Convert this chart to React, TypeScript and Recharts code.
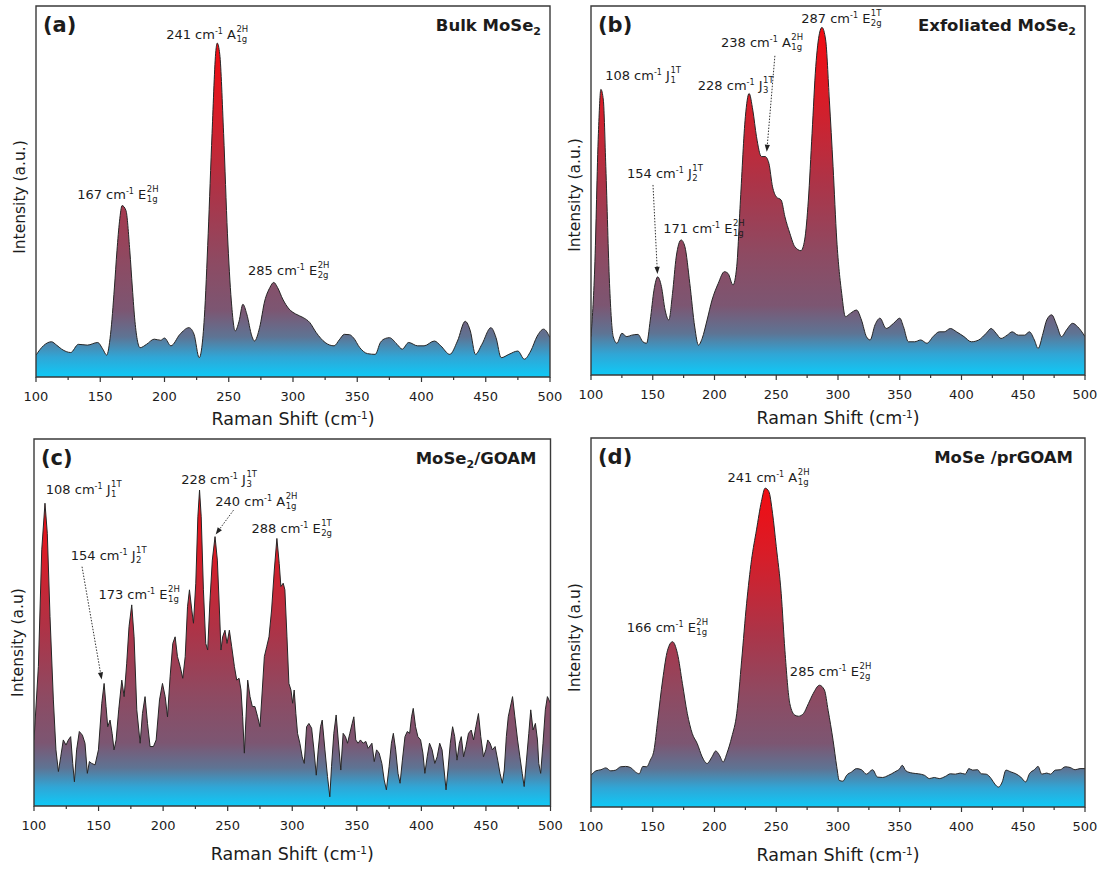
import React from "react";
import { AreaChart, Area, XAxis, YAxis, ReferenceArea, ReferenceDot, ReferenceLine } from "recharts";

const FONT = "'DejaVu Sans', 'Liberation Sans', Arial, sans-serif";
const INK = "#1c1c1c";

const X_TICKS = [100, 125, 150, 175, 200, 225, 250, 275, 300, 325, 350, 375, 400, 425, 450, 475, 500];

// Raman spectra, [shift cm-1, intensity % of frame height]
const BULK_SPECTRUM: [number, number][] = [
  [100, 5.9], [106, 8.5], [112, 9.5], [116, 8.6], [120, 7.5], [127, 6.6], [133, 8.8], [140, 8.6], [148, 9.3],
  [152, 7.5], [155, 5.9], [158, 11.5], [161, 24], [163, 34], [165, 42], [167, 46.2], [170, 44.9], [173, 34],
  [175, 24], [177, 15], [181, 7.9], [186, 8.8], [192, 10.2], [197, 9.9], [200, 10.5], [205, 8.4], [212, 11.5],
  [219, 13.3], [223, 11.5], [227, 5.2], [229, 7.9], [231, 16], [234, 38.6], [237, 65.6], [240, 88], [241, 90],
  [243, 87], [246, 65.6], [249, 38.6], [252, 20.5], [255, 12.4], [258, 15], [261, 19.6], [264, 17], [268, 11],
  [270, 9.7], [274, 13.3], [278, 20.5], [282, 24.1], [285, 25.5], [288, 24.1], [292, 21], [297, 18.3], [302, 17],
  [308, 16], [313, 14.7], [318, 12], [325, 9.3], [332, 8.4], [336, 10], [340, 11.5], [344, 11.4], [347, 10.6],
  [352, 7.9], [358, 6.3], [364, 6.1], [368, 9.3], [372, 10.4], [375, 10.6], [381, 8.8], [385, 7.5], [390, 9.3],
  [397, 8.4], [402, 8.4], [410, 9.7], [415, 8.4], [422, 6.1], [428, 9.7], [434, 15], [438, 12.4], [442, 6.1],
  [447, 8.8], [454, 13.3], [458, 10.6], [462, 5.2], [468, 6.1], [475, 7], [480, 4.8], [485, 7], [490, 11],
  [495, 12.9], [500, 10.6],
];

const EXFOLIATED_SPECTRUM: [number, number][] = [
  [100, 10.4], [103, 29], [106, 65.5], [108, 77.4], [110, 74.5], [112, 56.5], [115, 24.8], [118, 10.4], [121, 8.6],
  [125, 11.3], [129, 10.4], [133, 10.8], [138, 11], [142, 9], [145, 8.6], [148, 14.9], [151, 23], [154, 26.6],
  [157, 24], [160, 17.6], [163, 14.9], [166, 22.1], [169, 32], [173, 36.6], [176, 34.8], [180, 24.8], [184, 13],
  [187, 8.1], [190, 9.9], [194, 14.9], [198, 20.3], [203, 24.8], [208, 28], [211, 27.5], [215, 24.4], [218, 29.4],
  [221, 47.4], [225, 70], [228, 76.3], [231, 71.8], [234, 64.6], [238, 59.2], [241, 59.2], [244, 57.4], [247, 51],
  [250, 48.3], [254, 47.4], [257, 42.9], [261, 38.4], [265, 34.8], [270, 33.7], [273, 36.6], [276, 47.4],
  [279, 65.5], [282, 83.6], [285, 92.6], [287, 94.2], [290, 90.8], [293, 74.5], [296, 56.5], [299, 36.6],
  [303, 22.1], [306, 15.8], [310, 16.7], [315, 17.6], [319, 14.9], [323, 10.4], [326, 9.5], [330, 13.6],
  [334, 15.4], [339, 12.6], [345, 14], [350, 15.4], [353, 13.1], [357, 9], [362, 9], [367, 9.5], [372, 8.6],
  [377, 10.4], [382, 11.7], [386, 11.7], [391, 12.6], [396, 11.7], [402, 10.4], [408, 9], [414, 9.5], [420, 11.3],
  [424, 12.6], [428, 11.3], [432, 9.9], [437, 10.8], [441, 11.7], [446, 10.8], [451, 10.8], [455, 11.7],
  [459, 9.5], [462, 7.2], [466, 11.3], [469, 14.9], [473, 16.3], [477, 13.6], [481, 10.4], [485, 12.2], [490, 14],
  [494, 13.1], [500, 10.4],
];

const GOAM_SPECTRUM: [number, number][] = [
  [100, 18], [103.4, 38], [106, 69.8], [108.5, 82.5], [110.3, 74.3], [112.4, 51.6], [115, 28.9], [117, 15.3],
  [118.9, 9.4], [120.7, 13.4], [122.7, 18], [124.8, 16.6], [126.6, 18], [128.4, 18.9], [130, 11.6], [131.3, 6.6],
  [133, 15.3], [135.1, 20.3], [137.5, 19.3], [139.5, 17.1], [141.3, 8.9], [142.9, 12.1], [144.7, 11.6],
  [147.3, 11.2], [149.9, 15.3], [152.5, 28], [154.3, 33.4], [155.8, 27.1], [157.1, 21.6], [158.9, 23.4],
  [160.5, 19.8], [162, 15.3], [163.6, 18], [165.6, 26.2], [168, 34.3], [169.8, 29.8], [171.8, 38.9], [173.6, 48.9],
  [175.7, 54.8], [177.5, 46.1], [179.6, 26.2], [182.2, 17.1], [184, 25.2], [186, 29.8], [187.9, 22.5],
  [189.9, 16.2], [192.5, 16.2], [194.6, 18], [197.2, 28.9], [199.5, 33.4], [201.6, 29.8], [203.4, 24.3],
  [205.4, 35.2], [207.5, 44.3], [209.3, 46.1], [211.1, 40.7], [213.2, 38], [215.2, 34.8], [217.1, 40.7],
  [218.9, 54.3], [220.4, 58.9], [222.2, 53.4], [223.5, 49.8], [225.3, 60.7], [226.9, 78.8], [228.2, 86.1],
  [229.5, 78.8], [231.2, 58.9], [233, 44.3], [234.5, 42.5], [236.3, 56.1], [238.1, 67], [240.2, 73.4], [242, 67],
  [243.6, 53.4], [244.8, 42.5], [246.1, 46.1], [247.9, 47.9], [249.5, 44.3], [251.3, 47.9], [253.1, 43.4],
  [255.2, 38], [257, 34.3], [258.8, 34.8], [260.3, 31.6], [261.6, 24.3], [262.9, 14.4], [264.2, 24.3],
  [265.5, 34.3], [267.3, 29.8], [269.1, 27.1], [271.1, 27.1], [273.2, 24.3], [275, 21.6], [276.8, 31.6],
  [278.4, 40.7], [280.2, 43.4], [282, 46.1], [284, 53.4], [286.1, 64.3], [288.1, 72.9], [289.9, 66.1],
  [291.2, 59.8], [293, 60.7], [294.3, 58.9], [295.9, 46.1], [297.4, 33.4], [299, 31.6], [300.3, 28], [301.5, 31.6],
  [302.8, 25.2], [304.1, 19.8], [305.9, 17.1], [307.7, 13.4], [309.3, 11.6], [311.1, 21.6], [312.9, 22.5],
  [315, 21.2], [316.8, 15.3], [318.6, 8.4], [320.1, 15.3], [321.9, 21.6], [323.2, 23.4], [325.3, 15.3], [327.3, 8],
  [329.1, 2.5], [330.4, 10.7], [332.2, 19.8], [334, 24.8], [335.6, 18], [337.6, 9.8], [339.4, 19.8], [341.2, 18.9],
  [342.8, 17.1], [344.6, 19.8], [346.4, 22.5], [347.7, 24.3], [349.2, 18], [351, 17.1], [352.8, 18], [354.9, 17.1],
  [357, 17.6], [358.8, 15.7], [361.7, 17.1], [363.5, 12.1], [365.3, 15.3], [367.3, 14.4], [369.4, 11.6],
  [371.2, 7.1], [372.9, 4.4], [375, 10.7], [376.8, 17.1], [378.3, 19.8], [380.1, 15.3], [381.9, 8.9], [383.5, 6.2],
  [385.3, 12.5], [387.3, 18.9], [389.1, 20.3], [390.9, 19.8], [392.4, 24.3], [393.7, 26.6], [395.5, 21.6],
  [397.3, 18.9], [399.4, 18], [401.2, 14.4], [402.7, 8.9], [404.5, 13.4], [406.3, 17.1], [408.3, 15.3],
  [410.4, 11.6], [412.2, 13.4], [414.2, 17.1], [416, 15.3], [417.6, 9.8], [419.1, 4.4], [420.6, 9.8], [422.4, 17.1],
  [424.2, 21.6], [425.8, 18.9], [427.6, 12.5], [429.4, 17.1], [430.9, 18.9], [432.7, 13.4], [434.5, 16.2],
  [436.5, 19.8], [438.6, 20.7], [440.4, 18], [442.2, 21.6], [444.2, 25.2], [446, 18.9], [448.1, 13.4],
  [449.9, 15.3], [451.4, 18], [453.2, 17.1], [455, 15.3], [457.1, 16.2], [459.1, 12.5], [460.9, 8.9], [462.7, 6.2],
  [464.2, 9.8], [465.8, 18.9], [467.3, 24.3], [469.4, 27.8], [470.6, 29.8], [472.4, 24.3], [474.5, 18],
  [476.3, 13.4], [478.1, 8.9], [479.6, 5.3], [481.4, 12.5], [483.2, 19.8], [484.7, 26.2], [486.5, 20.7],
  [488.3, 22.5], [489.9, 18], [490.9, 11.6], [492.4, 8.9], [494.2, 17.1], [496, 26.2], [497.6, 29.8], [500, 28],
];

const PRGOAM_SPECTRUM: [number, number][] = [
  [100, 8.6], [104, 9.8], [108, 10.1], [112, 10.6], [116, 9.8], [120, 10], [124, 10.9], [128, 11], [132, 10.7],
  [136, 9.5], [139, 9], [142, 11], [145, 10.9], [148, 12.7], [151, 15.4], [154, 23.5], [158, 34.4], [162, 42.5],
  [166, 44.8], [170, 41.6], [174, 33.5], [178, 25.3], [182, 19.9], [186, 17.2], [190, 13.6], [194, 11.8],
  [198, 13.6], [201, 15.2], [204, 14], [207, 12.2], [210, 14.5], [214, 19], [218, 25.3], [222, 39.8], [226, 55.2],
  [230, 67], [234, 75.1], [238, 82.8], [241, 86.4], [244, 85.5], [247, 79.6], [250, 70.6], [254, 57.9], [257, 42.5],
  [261, 28], [265, 24.9], [268, 24.6], [272, 25.3], [276, 28], [280, 30.8], [285, 33], [289, 31.7], [292, 26.2],
  [296, 18.1], [299, 10.9], [301, 7.2], [304, 7], [307, 8.6], [311, 9.5], [315, 10.4], [319, 10.1], [323, 8.9],
  [328, 10.1], [332, 8.1], [336, 8], [341, 8.6], [346, 9.5], [350, 10.4], [352, 11.3], [355, 9.8], [360, 9.2],
  [365, 9], [370, 8.6], [374, 7.7], [378, 8], [382, 7.7], [387, 8.3], [391, 9], [395, 8.9], [399, 9.2], [403, 8.9],
  [406, 10.4], [409, 10], [413, 10.1], [416, 9], [420, 8.9], [424, 7.7], [427, 6.2], [430, 5.4], [433, 6.8],
  [436, 10], [440, 9.5], [444, 9], [448, 8.1], [452, 6.8], [455, 9], [459, 10.1], [462, 11], [465, 8.9], [469, 9.2],
  [472, 8.9], [476, 10], [480, 10.1], [484, 10.9], [488, 10.7], [492, 10.1], [496, 10.4], [500, 10.4],
];

type Pt = [number, number];
type Peak = { wave: string; mode: string; sup: string; sub: string; at: Pt; arrow?: [Pt, Pt] };

const BULK_PEAKS: Peak[] = [
  { wave: "167", mode: "E", sup: "2H", sub: "1g", at: [185.8, 48] },
  { wave: "241", mode: "A", sup: "2H", sub: "1g", at: [255.6, 91.1] },
  { wave: "285", mode: "E", sup: "2H", sub: "2g", at: [318.8, 27.5] },
];

const EXFOLIATED_PEAKS: Peak[] = [
  { wave: "108", mode: "J", sup: "1T", sub: "1", at: [163.9, 80] },
  { wave: "154", mode: "J", sup: "1T", sub: "2", at: [181.6, 53.4], arrow: [[150.2, 51.5], [153.8, 27.4]] },
  { wave: "171", mode: "E", sup: "2H", sub: "1g", at: [214.5, 38.5] },
  { wave: "228", mode: "J", sup: "1T", sub: "3", at: [238.9, 77.2] },
  { wave: "238", mode: "A", sup: "2H", sub: "1g", at: [261.8, 89], arrow: [[248.9, 86.5], [242.3, 60.5]] },
  { wave: "287", mode: "E", sup: "1T", sub: "2g", at: [326.2, 95.5] },
];

const GOAM_PEAKS: Peak[] = [
  { wave: "108", mode: "J", sup: "1T", sub: "1", at: [159.3, 85] },
  { wave: "154", mode: "J", sup: "1T", sub: "2", at: [178.6, 67], arrow: [[137.2, 65.2], [152.4, 34.5]] },
  { wave: "173", mode: "E", sup: "2H", sub: "1g", at: [203.4, 56.4] },
  { wave: "228", mode: "J", sup: "1T", sub: "3", at: [264.1, 87.7] },
  { wave: "240", mode: "A", sup: "2H", sub: "1g", at: [294.5, 81.7], arrow: [[254.5, 80.6], [240.7, 74]] },
  { wave: "288", mode: "E", sup: "1T", sub: "2g", at: [322, 74.4] },
];

const PRGOAM_PEAKS: Peak[] = [
  { wave: "166", mode: "E", sup: "2H", sub: "1g", at: [184.9, 47.5] },
  { wave: "241", mode: "A", sup: "2H", sub: "1g", at: [267, 88.1] },
  { wave: "285", mode: "E", sup: "2H", sub: "2g", at: [317, 35.4] },
];

type Geometry = {
  left: number;
  top: number;
  width: number;
  height: number;
  margin: { top: number; left: number; right: number; bottom: number };
  titleDy: number;
  yLabelDy: number;
  nameRight: number;
};

function XTick(props: any) {
  const { x, y, payload } = props;
  const major = payload.value % 50 === 0;
  return (
    <g>
      <line x1={x} x2={x} y1={y} y2={y + (major ? 5 : 3)} stroke="#333" strokeWidth={1.2} />
      {major && (
        <text x={x} y={y + 24} textAnchor="middle" fontSize={13} fontFamily={FONT} fill={INK}>
          {payload.value}
        </text>
      )}
    </g>
  );
}

function PeakText({ cx, cy, peak }: { cx: number; cy: number; peak: Peak }) {
  return (
    <g fontFamily={FONT} fill={INK}>
      <text x={cx} y={cy} textAnchor="end" fontSize={13}>
        {peak.wave} cm<tspan dy={-5} fontSize={8}>-1</tspan>
        <tspan dy={5}> {peak.mode}</tspan>
      </text>
      <text x={cx + 0.5} y={cy - 7} fontSize={8.5}>
        {peak.sup}
      </text>
      <text x={cx + 0.5} y={cy + 3} fontSize={8.5}>
        {peak.sub}
      </text>
    </g>
  );
}

function Arrow(props: any) {
  const { x1, y1, x2, y2 } = props;
  const ang = Math.atan2(y2 - y1, x2 - x1);
  const L = 7;
  const W = 2.6;
  const bx = x2 - L * Math.cos(ang);
  const by = y2 - L * Math.sin(ang);
  const px = -Math.sin(ang) * W;
  const py = Math.cos(ang) * W;
  return (
    <g>
      <line x1={x1} y1={y1} x2={bx} y2={by} stroke="#333" strokeWidth={1} strokeDasharray="1.5 1.5" />
      <polygon points={`${x2},${y2} ${bx + px},${by + py} ${bx - px},${by - py}`} fill="#222" />
    </g>
  );
}

type PanelProps = {
  id: string;
  letter: string;
  name: string;
  nameSub?: string;
  nameRest?: string;
  yLabel: string;
  spectrum: Pt[];
  peaks: Peak[];
  curve: "monotone" | "linear";
  geo: Geometry;
};

function Panel({ id, letter, name, nameSub, nameRest, yLabel, spectrum, peaks, curve, geo }: PanelProps) {
  const data = spectrum.map(([x, y]) => ({ x, y }));
  const axisH = 50;
  const plotW = geo.width - geo.margin.left - geo.margin.right;
  const plotH = geo.height - geo.margin.top - geo.margin.bottom - axisH;

  const header = ({ cx, cy }: any) => (
    <g fontFamily={FONT} fill={INK}>
      <text x={cx + 7} y={cy + 26} fontSize={21} fontWeight="bold">
        ({letter})
      </text>
      <text x={cx + plotW - geo.nameRight} y={cy + 25} textAnchor="end" fontSize={16.5} fontWeight="bold">
        {name}
        {nameSub && (
          <tspan dy={4} fontSize={11}>
            {nameSub}
          </tspan>
        )}
        {nameRest && <tspan dy={-4}>{nameRest}</tspan>}
      </text>
      <text
        transform={`translate(${cx - 11}, ${cy + plotH / 2 + geo.yLabelDy}) rotate(-90)`}
        textAnchor="middle"
        fontSize={15.5}
      >
        {yLabel}
      </text>
      <text x={cx + plotW / 2} y={cy + plotH + geo.titleDy} textAnchor="middle" fontSize={17.5}>
        Raman Shift (cm<tspan dy={-6} fontSize={10.5}>-1</tspan>
        <tspan dy={6}>)</tspan>
      </text>
    </g>
  );

  return (
    <div style={{ position: "absolute", left: geo.left, top: geo.top }}>
      <AreaChart width={geo.width} height={geo.height} data={data} margin={geo.margin}>
        <defs>
          <linearGradient id={id} x1="0" y1="0" x2="0" y2="1">
            <stop offset="0%" stopColor="#f20c12" />
            <stop offset="20%" stopColor="#d91c27" />
            <stop offset="45%" stopColor="#ac3448" />
            <stop offset="65%" stopColor="#8e4a62" />
            <stop offset="80%" stopColor="#7c5672" />
            <stop offset="88%" stopColor="#5e7494" />
            <stop offset="94%" stopColor="#30a6d6" />
            <stop offset="100%" stopColor="#0fc9f6" />
          </linearGradient>
        </defs>
        <XAxis
          dataKey="x"
          type="number"
          domain={[100, 500]}
          ticks={X_TICKS}
          interval={0}
          allowDataOverflow
          axisLine={false}
          tickLine={false}
          tickSize={0}
          tickMargin={0}
          height={axisH}
          tick={(p: any) => <XTick {...p} />}
        />
        <YAxis type="number" domain={[0, 100]} hide allowDataOverflow />
        <Area
          type={curve}
          dataKey="y"
          stroke="#262626"
          strokeWidth={1}
          fill={`url(#${id})`}
          fillOpacity={1}
          dot={false}
          activeDot={false}
          isAnimationActive={false}
        />
        <ReferenceArea x1={100} x2={500} y1={0} y2={100} fill="none" stroke="#3a3a3a" strokeWidth={1.4} />
        {peaks
          .filter((p) => p.arrow)
          .map((p, i) => (
            <ReferenceLine
              key={`ar${i}`}
              segment={[
                { x: p.arrow![0][0], y: p.arrow![0][1] },
                { x: p.arrow![1][0], y: p.arrow![1][1] },
              ]}
              shape={(lp: any) => <Arrow {...lp} />}
            />
          ))}
        {peaks.map((p, i) => (
          <ReferenceDot
            key={`pk${i}`}
            x={p.at[0]}
            y={p.at[1]}
            r={0}
            shape={(dp: any) => <PeakText cx={dp.cx} cy={dp.cy} peak={p} />}
          />
        ))}
        <ReferenceDot x={100} y={100} r={0} shape={header} />
      </AreaChart>
    </div>
  );
}

export default function App() {
  return (
    <div style={{ position: "absolute", left: 0, top: 0, width: 1104, height: 870, background: "#fff" }}>
      <Panel
        id="gradA"
        letter="a"
        name="Bulk MoSe"
        nameSub="2"
        yLabel="Intensity (a.u.)"
        spectrum={BULK_SPECTRUM}
        peaks={BULK_PEAKS}
        curve="monotone"
        geo={{
          left: 0, top: 0, width: 572, height: 432,
          margin: { top: 6, left: 36, right: 22, bottom: 5 },
          titleDy: 48, yLabelDy: 5.5, nameRight: 9,
        }}
      />
      <Panel
        id="gradB"
        letter="b"
        name="Exfoliated MoSe"
        nameSub="2"
        yLabel="Intensity (a.u.)"
        spectrum={EXFOLIATED_SPECTRUM}
        peaks={EXFOLIATED_PEAKS}
        curve="monotone"
        geo={{
          left: 552, top: 0, width: 552, height: 432,
          margin: { top: 6, left: 39, right: 19, bottom: 7 },
          titleDy: 49, yLabelDy: 4.5, nameRight: 9,
        }}
      />
      <Panel
        id="gradC"
        letter="c"
        name="MoSe"
        nameSub="2"
        nameRest="/GOAM"
        yLabel="Intensity (a.u)"
        spectrum={GOAM_SPECTRUM}
        peaks={GOAM_PEAKS}
        curve="linear"
        geo={{
          left: 0, top: 432, width: 572, height: 438,
          margin: { top: 7, left: 34, right: 21.5, bottom: 14 },
          titleDy: 54, yLabelDy: 20, nameRight: 14,
        }}
      />
      <Panel
        id="gradD"
        letter="d"
        name="MoSe /prGOAM"
        yLabel="Intensity (a.u)"
        spectrum={PRGOAM_SPECTRUM}
        peaks={PRGOAM_PEAKS}
        curve="monotone"
        geo={{
          left: 552, top: 432, width: 552, height: 438,
          margin: { top: 6, left: 39, right: 19, bottom: 13 },
          titleDy: 54, yLabelDy: 15, nameRight: 12,
        }}
      />
    </div>
  );
}
